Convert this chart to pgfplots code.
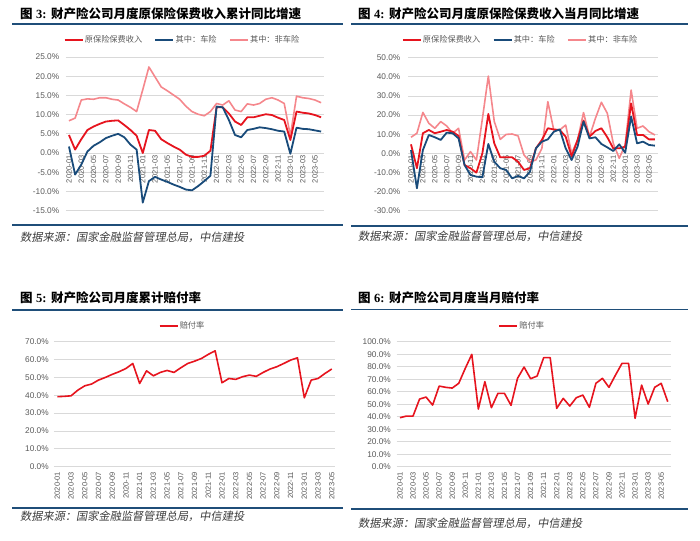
\documentclass[border=0pt]{standalone}
\usepackage{pgfplots}
\pgfplotsset{compat=1.18}
\usepackage{pgfplotstable}
\usepackage{fontspec}
\setmainfont{Liberation Sans}
\newfontfamily\cjk{Noto Sans CJK SC}
\newfontfamily\cjksl[FakeSlant=0.18]{Noto Sans CJK SC}
\newfontfamily\tnr{Liberation Serif}

\definecolor{cred}{RGB}{230,20,30}
\definecolor{cnavy}{RGB}{25,75,122}
\definecolor{cpink}{RGB}{245,135,140}
\definecolor{crule}{RGB}{31,78,121}
\definecolor{cgrid}{RGB}{217,217,217}
\definecolor{ctick}{RGB}{89,89,89}
\definecolor{csrc}{RGB}{60,60,60}

% fig 3: cumulative yoy growth (%), fig 4: monthly yoy growth (%)
\pgfplotstableread{
i tot car non
0 4.7 1.7 8.4
1 0.9 -5.6 9.1
2 3.6 -3.0 13.8
3 6.0 0.4 14.1
4 6.9 1.9 14.0
5 7.6 2.8 14.4
6 8.2 3.9 14.4
7 8.4 4.5 14.0
8 8.5 5.0 13.8
9 7.3 4.1 12.8
10 6.0 2.2 11.9
11 4.5 0.9 10.8
12 0.0 -12.9 16.5
13 6.0 -7.3 22.4
14 5.8 -6.2 19.8
15 3.6 -6.9 17.2
16 2.6 -7.5 16.2
17 1.7 -8.2 15.1
18 0.9 -8.8 14.0
19 -0.4 -9.5 12.2
20 -1.0 -9.7 10.8
21 -1.0 -8.6 10.1
22 -0.7 -7.3 9.7
23 0.6 -5.9 10.8
24 11.9 12.1 12.9
25 11.9 11.9 12.5
26 10.3 8.6 13.6
27 8.2 4.7 11.2
28 7.3 4.1 10.8
29 9.3 6.0 12.8
30 9.3 6.3 12.5
31 9.7 6.7 12.9
32 10.1 6.5 14.0
33 9.9 6.2 14.4
34 9.2 5.8 13.8
35 8.6 5.6 12.9
36 3.4 -0.2 4.5
37 10.8 6.6 14.8
38 10.5 6.3 14.4
39 10.3 6.2 14.2
40 9.9 5.9 13.8
41 9.3 5.6 13.1
}\tA

\pgfplotstableread{
i tot car non
0 4.7 1.7 8.4
1 -7.8 -18.3 10.5
2 10.5 1.7 21.4
3 12.2 9.6 15.7
4 10.5 8.4 13.1
5 11.3 7.0 16.6
6 12.2 10.8 14.3
7 11.3 10.5 10.5
8 9.1 7.8 13.1
9 -6.1 -6.1 -3.5
10 -7.8 -11.3 0.9
11 -10.1 -12.2 -3.5
12 0.0 -12.5 18.0
13 20.6 4.9 40.4
14 5.2 -4.4 16.6
15 -2.1 -7.8 7.3
16 -2.1 -8.7 9.9
17 -2.1 -13.1 10.1
18 -4.4 -11.8 9.1
19 -8.7 -13.1 -0.9
20 -7.8 -9.6 -4.4
21 2.6 2.6 -3.5
22 7.0 6.1 2.6
23 13.1 7.3 27.0
24 12.5 11.3 12.2
25 12.2 12.5 12.2
26 8.7 2.6 14.8
27 -1.7 -3.5 0.0
28 7.0 3.5 7.0
29 17.1 16.6 21.3
30 8.7 7.8 8.7
31 11.7 8.4 18.3
32 13.1 4.9 26.7
33 8.4 3.1 20.9
34 2.6 1.2 5.2
35 2.6 4.7 -2.6
36 3.5 0.3 4.4
37 26.1 19.2 33.1
38 9.6 5.2 13.1
39 9.6 6.1 14.3
40 7.3 4.4 11.3
41 7.3 4.0 9.6
}\tB

% fig 5: cumulative loss ratio (%)
\pgfplotstableread{
i r
0 39.2
1 39.4
2 39.7
3 42.9
4 45.3
5 46.3
6 48.5
7 50.0
8 51.7
9 53.2
10 55.0
11 57.8
12 46.6
13 53.7
14 50.9
15 52.8
16 53.9
17 52.8
18 55.4
19 57.8
20 59.1
21 60.6
22 62.9
23 64.9
24 47.0
25 49.4
26 48.9
27 50.4
28 51.3
29 50.6
30 52.8
31 54.7
32 56.0
33 57.8
34 59.7
35 61.0
36 38.6
37 48.5
38 49.4
39 52.2
40 54.7
}\tC

% fig 6: monthly loss ratio (%)
\pgfplotstableread{
i r
0 39.2
1 40.5
2 40.5
3 54.1
4 55.7
5 49.3
6 64.5
7 63.5
8 62.9
9 66.7
10 78.7
11 89.9
12 46.1
13 68.0
14 47.2
15 58.7
16 58.7
17 49.1
18 70.7
19 79.7
20 70.4
21 72.5
22 87.2
23 87.2
24 46.7
25 54.7
26 48.5
27 55.2
28 57.3
29 47.5
30 66.7
31 70.7
32 63.5
33 73.3
34 82.7
35 82.7
36 38.7
37 65.3
38 50.1
39 63.5
40 66.7
41 52.0
}\tD

\pgfplotsset{
  panel/.style={
    scale only axis, anchor=south west,
    axis line style={draw=none}, major tick length=0pt,
  },
  % grid and tick labels, drawn first so the lines pass over them
  panelbg/.style={panel,
    ymajorgrids, grid style={cgrid, line width=0.7pt},
    tick label style={text=ctick},
    yticklabel style={font=\fontsize{8.3}{9}\selectfont, inner sep=0pt},
    xticklabel style={font=\fontsize{7.5}{8}\selectfont, rotate=90, anchor=east, inner sep=1pt},
    xtick={0,2,...,40},
    xticklabels={2020-01,2020-03,2020-05,2020-07,2020-09,2020-11,2021-01,2021-03,2021-05,2021-07,2021-09,2021-11,2022-01,2022-03,2022-05,2022-07,2022-09,2022-11,2023-01,2023-03,2023-05},
  },
  % data and legend
  panelfg/.style={panel,
    xtick=\empty, ytick=\empty,
    legend style={draw=none, fill=none, legend columns=-1, anchor=center,
      font=\cjk\fontsize{8.2}{9}\selectfont, text=ctick,
      nodes={inner sep=1pt},
      /tikz/every even column/.append style={column sep=11pt}},
    legend image code/.code={\draw[#1, line width=2.4pt] (0pt,0pt) -- (18pt,0pt);},
    every axis plot/.append style={no markers, line join=round},
  },
}

\begin{document}
\begin{tikzpicture}[x=1pt,y=1pt]
\path[use as bounding box] (0,0) rectangle (700,540);

% ---- titles, rules, sources
\node[anchor=west, inner sep=0] at (20,526) {\fontsize{12.5}{14}\selectfont\bfseries{\cjk 图} {\tnr 3:} {\cjk 财产险公司月度原保险保费收入累计同比增速}};
\node[anchor=west, inner sep=0] at (358,526) {\fontsize{12.5}{14}\selectfont\bfseries{\cjk 图} {\tnr 4:} {\cjk 财产险公司月度原保险保费收入当月同比增速}};
\node[anchor=west, inner sep=0] at (20,242) {\fontsize{12.5}{14}\selectfont\bfseries{\cjk 图} {\tnr 5:} {\cjk 财产险公司月度累计赔付率}};
\node[anchor=west, inner sep=0] at (358,242) {\fontsize{12.5}{14}\selectfont\bfseries{\cjk 图} {\tnr 6:} {\cjk 财产险公司月度当月赔付率}};

\draw[crule, line width=1.5pt] (12,516) -- (343,516);
\draw[crule, line width=1.5pt] (351,516) -- (688,516);
\draw[crule, line width=1.5pt] (12,315) -- (343,315);
\draw[crule, line width=1.5pt] (351,314) -- (688,314);
\draw[crule, line width=1.5pt] (12,230) -- (343,230);
\draw[crule, line width=1.5pt] (351,230.5) -- (688,230.5);
\draw[crule, line width=1.5pt] (12,32) -- (343,32);
\draw[crule, line width=1.5pt] (351,31) -- (688,31);

\node[anchor=west, inner sep=0, text=csrc] at (20,303) {\cjksl\fontsize{11.2}{13}\selectfont 数据来源：国家金融监督管理总局，中信建投};
\node[anchor=west, inner sep=0, text=csrc] at (358,303.3) {\cjksl\fontsize{11.2}{13}\selectfont 数据来源：国家金融监督管理总局，中信建投};
\node[anchor=west, inner sep=0, text=csrc] at (20,23.3) {\cjksl\fontsize{11.2}{13}\selectfont 数据来源：国家金融监督管理总局，中信建投};
\node[anchor=west, inner sep=0, text=csrc] at (358,16.7) {\cjksl\fontsize{11.2}{13}\selectfont 数据来源：国家金融监督管理总局，中信建投};

% ---- fig 3
\pgfplotsset{geoA/.style={at={(65.9pt,329.3pt)}, width=258.3pt, height=153.7pt,
  xmin=-0.5, xmax=41.5, ymin=-15, ymax=25}}
\begin{axis}[panelbg, geoA,
  ytick={-15,-10,...,25},
  yticklabels={-15.0\%,-10.0\%,-5.0\%,0.0\%,5.0\%,10.0\%,15.0\%,20.0\%,25.0\%},
  yticklabel style={xshift=-6.5pt},
  xticklabel shift=-56.4pt,
]
\end{axis}
\begin{axis}[panelfg, geoA, legend style={at={(0.449,1.11)}}]
\addlegendimage{cred}\addlegendentry{原保险保费收入}
\addlegendimage{cnavy}\addlegendentry{其中：车险}
\addlegendimage{cpink}\addlegendentry{其中：非车险}
\addplot[cpink, line width=1.6pt, forget plot] table[x=i, y=non] {\tA};
\addplot[cred, line width=1.8pt, forget plot] table[x=i, y=tot] {\tA};
\addplot[cnavy, line width=1.8pt, forget plot] table[x=i, y=car] {\tA};
\end{axis}

% ---- fig 4
\pgfplotsset{geoB/.style={at={(408pt,329.3pt)}, width=249.9pt, height=153pt,
  xmin=-0.5, xmax=41.5, ymin=-30, ymax=50}}
\begin{axis}[panelbg, geoB,
  ytick={-30,-20,...,50},
  yticklabels={-30.0\%,-20.0\%,-10.0\%,0.0\%,10.0\%,20.0\%,30.0\%,40.0\%,50.0\%},
  yticklabel style={xshift=-7.5pt},
  xticklabel shift=-56.4pt,
]
\end{axis}
\begin{axis}[panelfg, geoB, legend style={at={(0.448,1.116)}}]
\addlegendimage{cred}\addlegendentry{原保险保费收入}
\addlegendimage{cnavy}\addlegendentry{其中：车险}
\addlegendimage{cpink}\addlegendentry{其中：非车险}
\addplot[cpink, line width=1.6pt, forget plot] table[x=i, y=non] {\tB};
\addplot[cred, line width=1.8pt, forget plot] table[x=i, y=tot] {\tB};
\addplot[cnavy, line width=1.8pt, forget plot] table[x=i, y=car] {\tB};
\end{axis}

% ---- fig 5
\pgfplotsset{geoC/.style={at={(53.9pt,73.3pt)}, width=281.3pt, height=125pt,
  xmin=-0.5, xmax=40.5, ymin=0, ymax=70}}
\begin{axis}[panelbg, geoC,
  ytick={0,10,...,70},
  yticklabels={0.0\%,10.0\%,20.0\%,30.0\%,40.0\%,50.0\%,60.0\%,70.0\%},
  yticklabel style={xshift=-5pt},
  xticklabel shift=4pt,
]
\end{axis}
\begin{axis}[panelfg, geoC, legend style={at={(0.455,1.126)}}]
\addplot[cred, line width=1.6pt] table[x=i, y=r] {\tC};
\addlegendentry{赔付率}
\end{axis}

% ---- fig 6
\pgfplotsset{geoD/.style={at={(396.7pt,73.3pt)}, width=274.3pt, height=125pt,
  xmin=-0.5, xmax=41.5, ymin=0, ymax=100}}
\begin{axis}[panelbg, geoD,
  ytick={0,10,...,100},
  yticklabels={0.0\%,10.0\%,20.0\%,30.0\%,40.0\%,50.0\%,60.0\%,70.0\%,80.0\%,90.0\%,100.0\%},
  yticklabel style={xshift=-5.7pt},
  xticklabel shift=4pt,
]
\end{axis}
\begin{axis}[panelfg, geoD, legend style={at={(0.455,1.126)}}]
\addplot[cred, line width=1.6pt] table[x=i, y=r] {\tD};
\addlegendentry{赔付率}
\end{axis}
\end{tikzpicture}
\end{document}
